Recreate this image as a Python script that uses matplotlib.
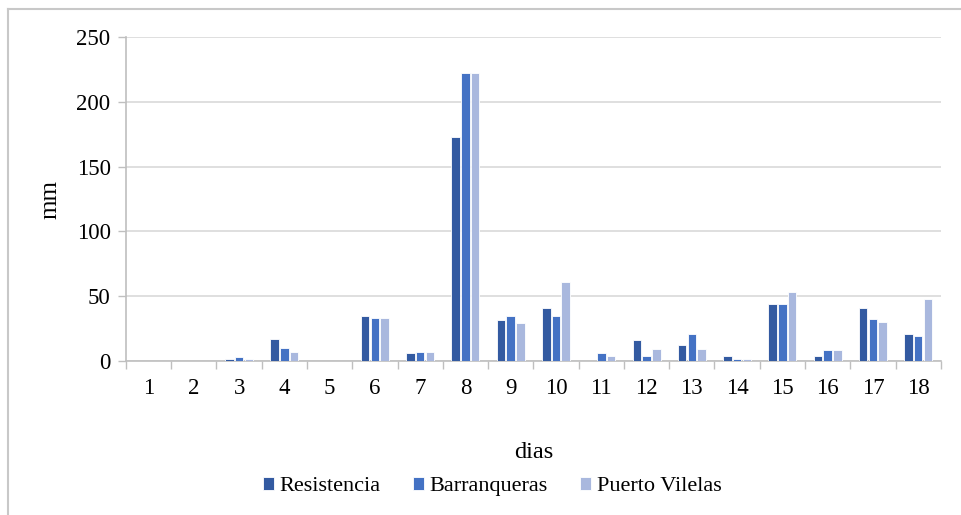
import numpy as np
import matplotlib.pyplot as plt

plt.rcParams["font.family"] = ["Liberation Serif", "DejaVu Serif"]

# data
dias = [str(d) for d in range(1, 19)]
resistencia = [0, 0, 1.5, 17, 0, 35, 6, 173, 32, 41, 0, 16, 12, 4, 44, 4, 41, 21]
barranqueras = [0, 0, 3, 10, 0, 33, 7, 222, 34.5, 34.5, 6, 4, 21, 1.3, 44, 8.5, 32.5, 19.5]
puerto_vilelas = [0, 0, 1.5, 7, 0, 33, 7, 222, 29, 61, 4, 9.5, 9.5, 1.3, 53, 8.5, 30, 48]

series = [("Resistencia", resistencia, "#335AA1"),
          ("Barranqueras", barranqueras, "#4472C4"),
          ("Puerto Vilelas", puerto_vilelas, "#A9B8DE")]

fig = plt.figure(figsize=(9.61, 5.15), dpi=100)
ax = fig.add_axes([0.131, 0.299, 0.848, 0.629])

x = np.arange(len(dias))
w = 0.19
step = 0.215
for i, (name, vals, col) in enumerate(series):
    ax.bar(x + (i - 1) * step, vals, width=w, color=col, edgecolor="white",
           linewidth=0.6, label=name, zorder=3)

ax.set_xlim(-0.5, len(dias) - 0.5)
ax.set_ylim(0, 250)
ax.set_yticks(range(0, 251, 50))
ax.set_xticks(x)
ax.set_xticklabels(dias)
ax.set_xticks(np.arange(-0.5, len(dias)), minor=True)
ax.tick_params(axis="x", which="major", length=0, pad=12, labelsize=16.5)
ax.tick_params(axis="x", which="minor", length=6, color="#bfbfbf", width=1)
ax.tick_params(axis="y", length=6, color="#bfbfbf", width=1, labelsize=16.5, pad=5)

ax.grid(axis="y", color="#d9d9d9", linewidth=1.2, zorder=0)
for s in ["top", "right"]:
    ax.spines[s].set_visible(False)
for s in ["left", "bottom"]:
    ax.spines[s].set_color("#bfbfbf")
    ax.spines[s].set_linewidth(1.2)

ax.set_ylabel("mm", fontsize=18)
ax.yaxis.set_label_coords(-0.079, 0.5)
ax.set_xlabel("dias", fontsize=17.5)
ax.xaxis.set_label_coords(0.5, -0.25)

fig.legend(loc="center", bbox_to_anchor=(0.512, 0.055), ncol=3,
           frameon=False, fontsize=16, handlelength=0.5, handleheight=0.5,
           handletextpad=0.25, columnspacing=1.45)

# outer frame: top and left edges only, like the reference crop
fig.add_artist(plt.Line2D([0.0085, 1.0], [0.982, 0.982], transform=fig.transFigure,
                          color="#c8c8c8", linewidth=1.5))
fig.add_artist(plt.Line2D([0.0085, 0.0085], [0.0, 0.982], transform=fig.transFigure,
                          color="#c8c8c8", linewidth=1.5))

fig.savefig("out.png", dpi=100)
